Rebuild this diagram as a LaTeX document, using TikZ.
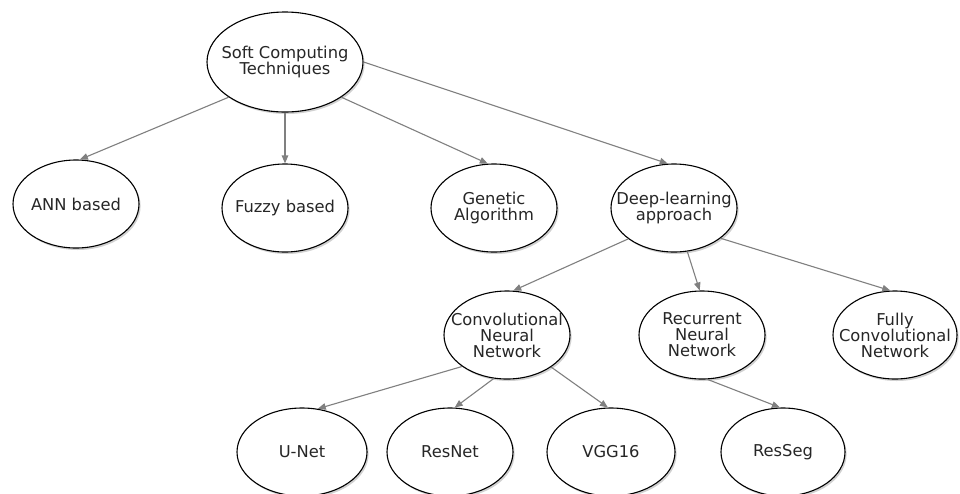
\documentclass[tikz,border=0pt]{standalone}
\usepackage{fontspec}
\setmainfont{DejaVu Sans}
\usetikzlibrary{shapes.geometric,arrows.meta,shadows}
\newcommand{\nodefont}{\fontsize{16.3}{16}\selectfont}
\tikzset{
  ell/.style={ellipse, draw=black, line width=1.1pt, fill=white,
    minimum width=126pt, minimum height=88pt, inner sep=0pt,
    drop shadow={shadow xshift=1.6pt, shadow yshift=-2pt, fill=black!40, opacity=0.45}},
  conn/.style={draw=black!50, line width=1.1pt, -{Triangle[length=8pt,width=6.5pt]}},
  every label/.style={font=\nodefont, align=center, text=black!85}
}
\begin{document}
\begin{tikzpicture}[x=1pt,y=-1pt]
\useasboundingbox (0,0) rectangle (960,493);
\clip (0,0) rectangle (960,493);
\fill[white] (0,0) rectangle (960,493);

\node[ell, minimum width=156pt, minimum height=100pt, label=center:{Soft Computing\\Techniques}] (soft) at (285,62) {};
\node[ell, label=center:{ANN based}] (ann) at (76,204) {};
\node[ell, label=center:{Fuzzy based}] (fuzzy) at (285,208) {};
\node[ell, label=center:{Genetic\\Algorithm}] (genetic) at (494,208) {};
\node[ell, label=center:{Deep-learning\\approach}] (deep) at (674,208) {};
\node[ell, label=center:{Convolutional\\Neural\\Network}] (cnn) at (507,335) {};
\node[ell, label=center:{Recurrent\\Neural\\Network}] (rnn) at (702,335) {};
\node[ell, minimum width=124pt, label=center:{Fully\\Convolutional\\Network}] (fcn) at (895,335) {};
\node[ell, minimum width=130pt, label=center:{U-Net}] (unet) at (302,452) {};
\node[ell, label=center:{ResNet}] (resnet) at (450,452) {};
\node[ell, minimum width=128pt, label=center:{VGG16}] (vgg) at (611,452) {};
\node[ell, minimum width=124pt, label=center:{ResSeg}] (resseg) at (783,452) {};

\draw[conn] (soft.212) -- (ann.85);
\draw[conn] (soft.south) -- (fuzzy.north);
\draw[conn] (soft.328) -- (genetic.98);
\draw[conn] (soft.0) -- (deep.98);
\draw[conn] (deep.214) -- (cnn.82);
\draw[conn] (deep.287) -- (rnn.93);
\draw[conn] (deep.327) -- (fcn.96);
\draw[conn] (cnn.215) -- (unet.70);
\draw[conn] (cnn.253) -- (resnet.84);
\draw[conn] (cnn.324) -- (vgg.94);
\draw[conn] (rnn.277) -- (resseg.94);
\end{tikzpicture}
\end{document}
